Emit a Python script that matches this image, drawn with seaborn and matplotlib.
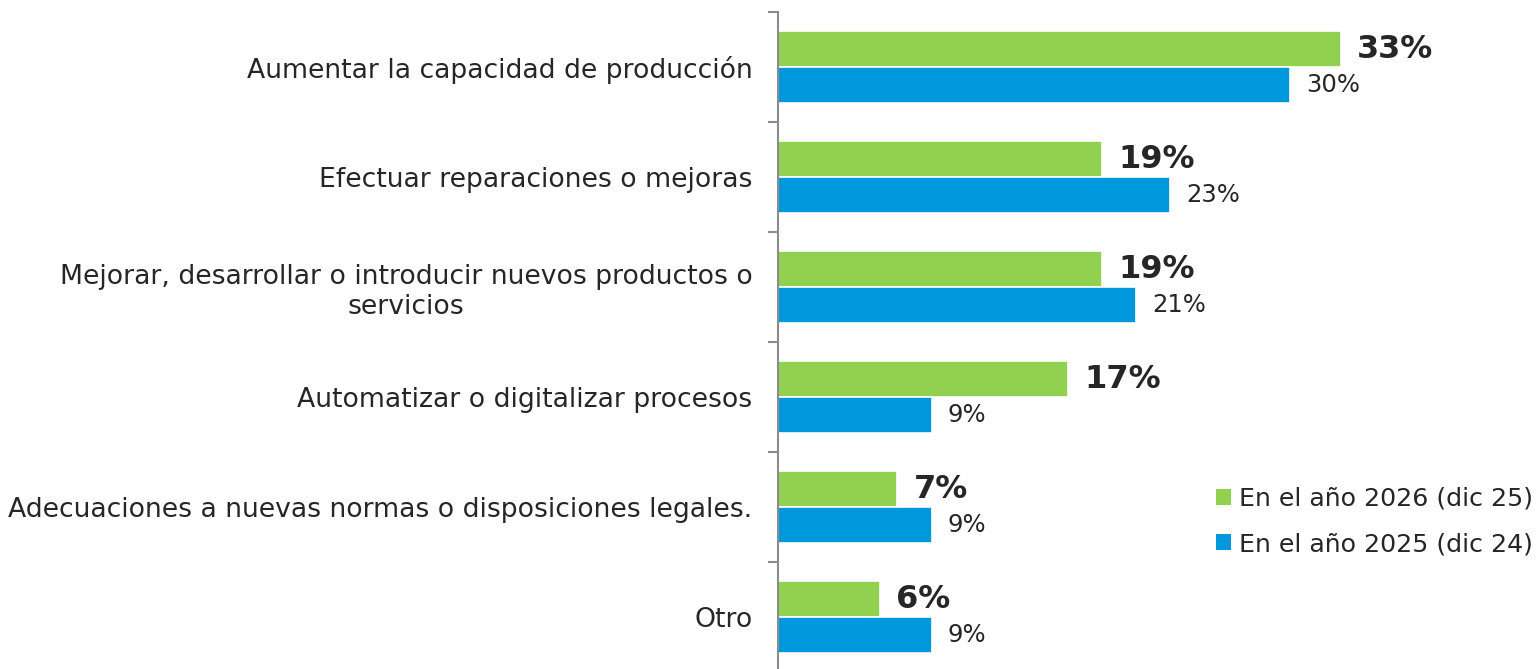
import numpy as np
import pandas as pd
import matplotlib
matplotlib.use("Agg")
import matplotlib.pyplot as plt
from matplotlib.patches import Patch
import seaborn as sns

sns.set_theme(style="white")
plt.rcParams['font.family'] = ['DejaVu Sans']

categories = [
    "Aumentar la capacidad de producción",
    "Efectuar reparaciones o mejoras",
    "Mejorar, desarrollar o introducir nuevos productos o\nservicios",
    "Automatizar o digitalizar procesos",
    "Adecuaciones a nuevas normas o disposiciones legales.",
    "Otro",
]
series_names = ["En el año 2026 (dic 25)", "En el año 2025 (dic 24)"]
vals_2026 = [33, 19, 19, 17, 7, 6]
vals_2025 = [30, 23, 21, 9, 9, 9]
colors = ["#92D050", "#0098DD"]
text_color = "#262626"

df = pd.DataFrame({
    "categoria": categories * 2,
    "serie": [series_names[0]] * len(categories) + [series_names[1]] * len(categories),
    "valor": vals_2026 + vals_2025,
})

W, H = 1538, 669
fig = plt.figure(figsize=(W / 100, H / 100), dpi=100)
ax = fig.add_axes([778 / W, -3 / H, (W - 778) / W, 660 / H])

sns.barplot(data=df, x="valor", y="categoria", hue="serie", order=categories,
            hue_order=series_names, palette=colors, orient="h", width=0.65,
            edgecolor="white", linewidth=1.2, saturation=1, legend=False, ax=ax)

ax.set_xlim(0, (W - 778) / 17.06)
ax.set_ylim(5.5, -0.5)
ax.set_xlabel("")
ax.set_ylabel("")
ax.xaxis.set_visible(False)

for s in ["top", "right", "bottom"]:
    ax.spines[s].set_visible(False)
ax.spines["left"].set_color("#8c8c8c")
ax.spines["left"].set_linewidth(1.5)

ax.set_yticks(range(len(categories)))
ax.set_yticklabels(categories, fontsize=19.2, color=text_color)
ax.set_yticks(np.arange(-0.5, len(categories), 1), minor=True)
ax.tick_params(axis="y", which="major", left=True, length=0, pad=18.5)
ax.tick_params(axis="y", which="minor", left=True, length=7, width=1.5,
               color="#8c8c8c", direction="out")
for t in ax.get_yticklabels():
    t.set_multialignment("center")

# value labels
ax.bar_label(ax.containers[0], labels=[f"{v}%" for v in vals_2026], padding=11.5,
             fontsize=23, fontweight="bold", color=text_color)
ax.bar_label(ax.containers[1], labels=[f"{v}%" for v in vals_2025], padding=11.5,
             fontsize=17.5, color=text_color)

handles = [Patch(facecolor=c, edgecolor="none") for c in colors]
fig.legend(handles, series_names, loc="center left", bbox_to_anchor=(1216 / W, (H - 521.5) / H),
           frameon=False, fontsize=18.2, handlelength=0.6, handleheight=0.6,
           handletextpad=0.3, labelspacing=0.85, borderpad=0, borderaxespad=0,
           labelcolor=text_color)

fig.savefig("out.png", dpi=100)
